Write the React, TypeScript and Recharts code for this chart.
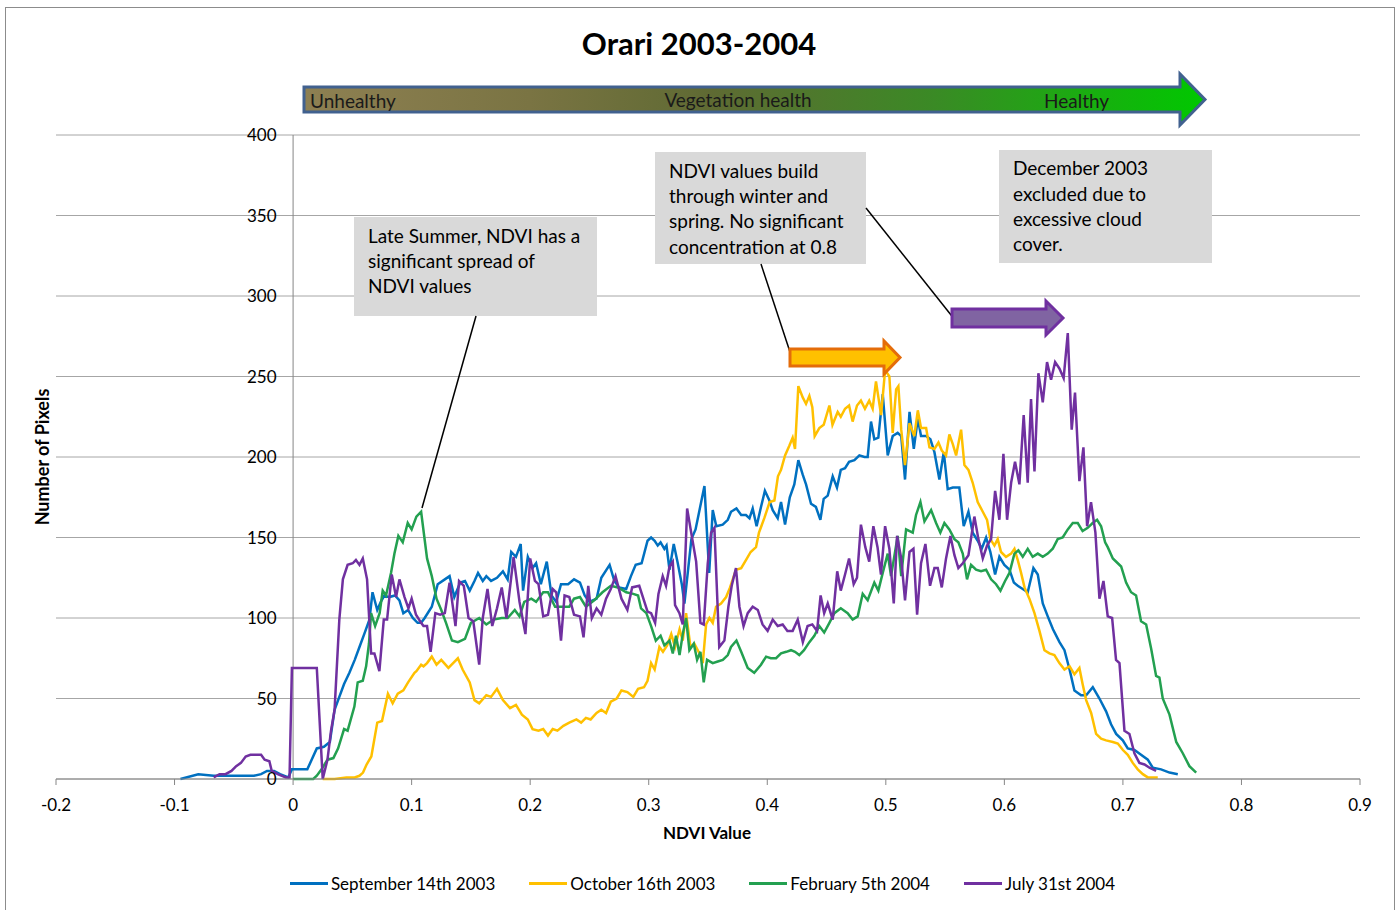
import React from "react";
import { LineChart, Line, XAxis, YAxis, CartesianGrid, ReferenceLine, ReferenceDot } from "recharts";

const FONT = "Lato, 'Noto Sans', sans-serif";

const SERIES_NAMES = ["September 14th 2003", "October 16th 2003", "February 5th 2004", "July 31st 2004"];
const COLORS = ["#0070C0", "#FFC000", "#23A050", "#7030A0"];
const X_TICKS = [-0.2, -0.1, 0, 0.1, 0.2, 0.3, 0.4, 0.5, 0.6, 0.7, 0.8, 0.9];
const Y_TICKS = [0, 50, 100, 150, 200, 250, 300, 350, 400];

// [NDVI, pixel count]
const sep14: [number, number][] = [
  [-0.095, 0], [-0.08, 3], [-0.067, 2], [-0.047, 2], [-0.033, 2], [-0.027, 3], [-0.022, 5], [-0.016, 5],
  [-0.011, 3], [-0.004, 1], [-0.001, 6], [0.012, 6], [0.02, 19], [0.026, 20], [0.031, 23], [0.035, 43],
  [0.039, 51], [0.043, 59], [0.0475, 66], [0.052, 74], [0.056, 82], [0.06, 90], [0.0644, 99], [0.067, 116],
  [0.071, 105], [0.074, 110], [0.077, 114], [0.081, 113], [0.086, 114], [0.0897, 111], [0.093, 103],
  [0.097, 105], [0.101, 100], [0.105, 97], [0.108, 97], [0.111, 100], [0.117, 107], [0.122, 121],
  [0.128, 124], [0.132, 126], [0.136, 113], [0.141, 122], [0.145, 123], [0.149, 117], [0.153, 123],
  [0.156, 128], [0.16, 123], [0.163, 126], [0.167, 123], [0.172, 125], [0.177, 129], [0.181, 124],
  [0.184, 141], [0.188, 138], [0.192, 146], [0.194, 117], [0.198, 138], [0.202, 131], [0.205, 134],
  [0.209, 121], [0.214, 135], [0.218, 114], [0.222, 110], [0.226, 121], [0.232, 121], [0.237, 124],
  [0.242, 122], [0.246, 114], [0.25, 110], [0.256, 112], [0.26, 125], [0.267, 133], [0.271, 123],
  [0.275, 119], [0.281, 118], [0.285, 126], [0.289, 133], [0.294, 134], [0.299, 148], [0.302, 150],
  [0.305, 148], [0.3076, 145], [0.31, 147], [0.3132, 143], [0.315, 145], [0.3175, 130], [0.3211, 146],
  [0.3245, 134], [0.3279, 121], [0.3301, 109], [0.336, 149], [0.3395, 155], [0.347, 182], [0.351, 128],
  [0.354, 167], [0.357, 157], [0.3624, 158], [0.3667, 161], [0.3694, 166], [0.374, 168], [0.378, 164],
  [0.382, 164], [0.385, 162], [0.3877, 168], [0.391, 157], [0.3947, 169], [0.398, 179], [0.4018, 173],
  [0.4046, 167], [0.4088, 162], [0.4116, 172], [0.415, 158], [0.419, 175], [0.4228, 183], [0.4262, 198],
  [0.4299, 189], [0.4327, 183], [0.4369, 171], [0.441, 169], [0.4448, 161], [0.4476, 174], [0.451, 176],
  [0.4552, 188], [0.4588, 181], [0.462, 192], [0.4656, 193], [0.469, 197], [0.4735, 198], [0.4777, 201],
  [0.482, 200], [0.4847, 200], [0.4875, 222], [0.4903, 211], [0.4937, 212], [0.4974, 239], [0.5016, 201],
  [0.5058, 213], [0.51, 215], [0.513, 213], [0.5162, 186], [0.52, 228], [0.5236, 205], [0.527, 224],
  [0.5297, 213], [0.534, 213], [0.5376, 211], [0.541, 203], [0.5452, 186], [0.5489, 203], [0.5522, 180],
  [0.5565, 181], [0.562, 181], [0.5657, 157], [0.5697, 166], [0.5733, 153], [0.5775, 148], [0.5809, 143],
  [0.5846, 150], [0.5882, 141], [0.5922, 127], [0.5958, 138], [0.6, 133], [0.6043, 130], [0.608, 122],
  [0.6113, 120], [0.6155, 118], [0.6197, 116], [0.6245, 131], [0.6282, 127], [0.6324, 109], [0.6366, 101],
  [0.641, 93], [0.6465, 85], [0.6507, 80], [0.655, 68], [0.6591, 55], [0.6647, 52], [0.669, 52],
  [0.6746, 57], [0.6802, 50], [0.6858, 42], [0.69, 34], [0.6943, 28], [0.6999, 24], [0.7041, 19],
  [0.7097, 18], [0.7153, 15], [0.721, 12], [0.7252, 7], [0.7322, 6], [0.7393, 4], [0.7463, 3],
];

const oct16: [number, number][] = [
  [0.025, 0], [0.035, 0], [0.045, 1], [0.052, 1], [0.056, 2], [0.059, 4], [0.062, 9], [0.066, 14],
  [0.071, 35], [0.075, 36], [0.08, 53], [0.084, 47], [0.0883, 53], [0.093, 55], [0.097, 60], [0.1024, 66],
  [0.104, 67], [0.108, 71], [0.11, 70], [0.113, 72], [0.117, 76], [0.121, 71], [0.125, 74], [0.131, 69],
  [0.135, 72], [0.139, 75], [0.143, 68], [0.149, 60], [0.153, 49], [0.157, 47], [0.163, 52], [0.167, 51],
  [0.172, 56], [0.177, 49], [0.183, 44], [0.188, 46], [0.193, 40], [0.198, 37], [0.202, 31], [0.207, 30],
  [0.211, 31], [0.215, 27], [0.219, 31], [0.223, 30], [0.228, 33], [0.233, 35], [0.239, 37], [0.243, 35],
  [0.247, 38], [0.251, 37], [0.256, 41], [0.26, 43], [0.264, 41], [0.268, 48], [0.273, 50], [0.277, 55],
  [0.282, 54], [0.287, 51], [0.291, 56], [0.296, 57], [0.299, 61], [0.302, 72], [0.305, 68], [0.309, 82],
  [0.312, 79], [0.3155, 83], [0.319, 90], [0.3222, 82], [0.326, 93], [0.3287, 86], [0.3315, 103],
  [0.3352, 82], [0.3385, 84], [0.3428, 78], [0.3456, 72], [0.3484, 96], [0.3512, 100], [0.354, 97],
  [0.3568, 107], [0.361, 109], [0.3653, 113], [0.3686, 119], [0.3736, 130], [0.378, 131], [0.382, 136],
  [0.386, 141], [0.3905, 144], [0.393, 153], [0.3975, 162], [0.402, 172], [0.406, 173], [0.409, 188],
  [0.4116, 192], [0.415, 201], [0.4186, 207], [0.4214, 212], [0.4234, 205], [0.4262, 244], [0.4299, 237],
  [0.4327, 233], [0.4355, 238], [0.438, 231], [0.44, 213], [0.4439, 218], [0.4476, 220], [0.4524, 232],
  [0.455, 220], [0.4594, 228], [0.462, 225], [0.4656, 230], [0.469, 232], [0.472, 222], [0.4757, 232],
  [0.479, 235], [0.4824, 230], [0.486, 235], [0.4889, 230], [0.4917, 247], [0.496, 226], [0.4994, 254],
  [0.503, 250], [0.5058, 215], [0.5087, 242], [0.5106, 244], [0.513, 217], [0.5162, 195], [0.52, 221],
  [0.524, 213], [0.527, 229], [0.5297, 218], [0.534, 218], [0.5368, 206], [0.541, 205], [0.5444, 209],
  [0.5472, 204], [0.5508, 201], [0.5536, 214], [0.5565, 208], [0.5593, 201], [0.5635, 217], [0.5663, 195],
  [0.5697, 192], [0.5733, 184], [0.5775, 172], [0.5818, 166], [0.5854, 161], [0.5882, 149], [0.5916, 145],
  [0.5944, 149], [0.5972, 141], [0.6014, 138], [0.6057, 140], [0.6085, 143], [0.6113, 136], [0.6141, 128],
  [0.617, 119], [0.6211, 112], [0.6254, 103], [0.6296, 92], [0.6338, 80], [0.638, 78], [0.6422, 77],
  [0.6464, 72], [0.6507, 68], [0.655, 70], [0.6591, 65], [0.6633, 69], [0.666, 59], [0.669, 49],
  [0.6732, 41], [0.6774, 28], [0.6816, 25], [0.6858, 24], [0.6915, 23], [0.6957, 22], [0.7, 18],
  [0.7041, 15], [0.7083, 10], [0.7125, 6], [0.7168, 3], [0.721, 1], [0.7294, 1],
];

const feb5: [number, number][] = [
  [0, 0], [0.017, 0], [0.02, 2], [0.024, 6], [0.029, 12], [0.034, 13], [0.038, 19], [0.043, 31],
  [0.046, 30], [0.0517, 45], [0.0545, 60], [0.0588, 61], [0.0616, 70], [0.064, 84], [0.0658, 103],
  [0.0692, 95], [0.073, 103], [0.0756, 117], [0.0784, 114], [0.0826, 128], [0.0855, 140], [0.0888, 151],
  [0.0925, 147], [0.0967, 159], [0.1, 155], [0.104, 163], [0.108, 166], [0.113, 137], [0.117, 126],
  [0.121, 112], [0.125, 105], [0.129, 97], [0.134, 86], [0.139, 85], [0.145, 87], [0.15, 97], [0.157, 100],
  [0.163, 96], [0.169, 99], [0.176, 100], [0.181, 100], [0.187, 105], [0.191, 101], [0.195, 110],
  [0.201, 112], [0.205, 110], [0.211, 116], [0.215, 116], [0.221, 107], [0.228, 107], [0.233, 107],
  [0.237, 112], [0.242, 113], [0.247, 107], [0.254, 111], [0.261, 116], [0.268, 120], [0.274, 119],
  [0.281, 116], [0.287, 115], [0.291, 114], [0.2935, 106], [0.298, 103], [0.302, 95], [0.306, 86],
  [0.31, 89], [0.3132, 83], [0.3175, 86], [0.3203, 78], [0.323, 89], [0.326, 77], [0.3287, 90],
  [0.3315, 100], [0.3343, 80], [0.338, 84], [0.3408, 74], [0.3436, 79], [0.3464, 60], [0.3492, 74],
  [0.354, 72], [0.3582, 73], [0.3625, 74], [0.3667, 77], [0.3694, 82], [0.374, 86], [0.378, 79],
  [0.3835, 69], [0.389, 66], [0.3947, 71], [0.399, 76], [0.403, 75], [0.4074, 75], [0.4116, 78],
  [0.416, 79], [0.42, 80], [0.4234, 79], [0.427, 77], [0.431, 80], [0.4355, 85], [0.4397, 89],
  [0.4439, 95], [0.448, 91], [0.4524, 97], [0.4566, 103], [0.462, 106], [0.4678, 103], [0.472, 99],
  [0.4763, 101], [0.4805, 115], [0.4847, 111], [0.4903, 122], [0.4937, 117], [0.4974, 128], [0.5016, 140],
  [0.5044, 126], [0.51, 151], [0.513, 126], [0.5171, 155], [0.5227, 153], [0.5255, 164], [0.5292, 172],
  [0.5326, 160], [0.5382, 167], [0.5424, 159], [0.546, 153], [0.5494, 159], [0.5536, 155], [0.5579, 149],
  [0.5612, 147], [0.5649, 140], [0.5685, 124], [0.5719, 133], [0.5761, 130], [0.5803, 129], [0.5846, 130],
  [0.5888, 124], [0.593, 121], [0.5967, 117], [0.6006, 123], [0.6043, 128], [0.6085, 140], [0.6118, 142],
  [0.6155, 138], [0.6197, 143], [0.6239, 138], [0.6282, 140], [0.6324, 138], [0.6366, 140], [0.6408, 143],
  [0.645, 149], [0.6492, 150], [0.6535, 155], [0.6577, 159], [0.6619, 159], [0.666, 154], [0.6703, 156],
  [0.6745, 159], [0.6782, 161], [0.6816, 157], [0.685, 147], [0.6872, 144], [0.6915, 137], [0.6985, 132],
  [0.7027, 122], [0.7069, 116], [0.7111, 114], [0.7153, 98], [0.7196, 96], [0.7238, 81], [0.728, 64],
  [0.7308, 63], [0.7336, 50], [0.7393, 40], [0.745, 23], [0.7505, 16], [0.7561, 8], [0.7618, 4],
];

const jul31: [number, number][] = [
  [-0.067, 1], [-0.062, 3], [-0.057, 3], [-0.052, 5], [-0.048, 8], [-0.044, 10], [-0.04, 14], [-0.036, 15],
  [-0.03, 15], [-0.027, 15], [-0.024, 12], [-0.02, 11], [-0.018, 5], [-0.013, 3], [-0.006, 1], [-0.003, 1],
  [-0.001, 69], [0.02, 69], [0.025, 0], [0.029, 12], [0.032, 30], [0.035, 43], [0.039, 99], [0.042, 124],
  [0.046, 133], [0.0503, 134], [0.053, 136], [0.056, 133], [0.0588, 137], [0.0624, 124], [0.0658, 78],
  [0.0686, 78], [0.0728, 67], [0.0765, 99], [0.0793, 99], [0.0832, 127], [0.0869, 113], [0.0897, 124],
  [0.094, 113], [0.0973, 106], [0.1, 112], [0.1037, 102], [0.108, 97], [0.11, 95], [0.113, 95],
  [0.116, 79], [0.12, 103], [0.124, 102], [0.128, 103], [0.132, 122], [0.137, 95], [0.14, 123],
  [0.144, 120], [0.148, 100], [0.152, 98], [0.157, 71], [0.16, 100], [0.164, 118], [0.168, 95],
  [0.172, 106], [0.176, 119], [0.18, 100], [0.186, 138], [0.191, 110], [0.196, 90], [0.2, 137],
  [0.204, 123], [0.207, 121], [0.211, 101], [0.215, 102], [0.219, 118], [0.222, 116], [0.226, 86],
  [0.229, 114], [0.233, 113], [0.237, 102], [0.242, 101], [0.245, 88], [0.249, 120], [0.252, 100],
  [0.256, 106], [0.26, 102], [0.264, 112], [0.268, 118], [0.272, 126], [0.277, 112], [0.282, 105],
  [0.286, 119], [0.292, 120], [0.299, 104], [0.302, 103], [0.3054, 97], [0.3082, 115], [0.3118, 126],
  [0.3146, 120], [0.3175, 132], [0.3203, 135], [0.3222, 108], [0.3259, 103], [0.3287, 96], [0.3324, 168],
  [0.3363, 151], [0.34, 135], [0.3436, 97], [0.3464, 96], [0.3498, 134], [0.3526, 153], [0.3554, 156],
  [0.3595, 82], [0.3638, 86], [0.3672, 107], [0.37, 120], [0.3736, 131], [0.3765, 107], [0.38, 95],
  [0.3835, 103], [0.3877, 107], [0.392, 105], [0.396, 96], [0.4003, 92], [0.4046, 99], [0.4088, 95],
  [0.413, 96], [0.417, 92], [0.4214, 92], [0.4257, 99], [0.43, 85], [0.434, 95], [0.438, 96], [0.442, 92],
  [0.445, 114], [0.448, 103], [0.451, 109], [0.4552, 99], [0.459, 129], [0.462, 117], [0.4656, 127],
  [0.469, 137], [0.4729, 121], [0.4757, 125], [0.479, 158], [0.4827, 144], [0.486, 135], [0.4895, 157],
  [0.493, 144], [0.4959, 127], [0.4994, 157], [0.503, 143], [0.5067, 109], [0.5095, 151], [0.513, 137],
  [0.5162, 111], [0.52, 141], [0.5233, 143], [0.5264, 102], [0.5297, 134], [0.5334, 146], [0.5373, 120],
  [0.541, 131], [0.5438, 131], [0.5472, 119], [0.5508, 137], [0.5545, 151], [0.5579, 139], [0.5612, 131],
  [0.5649, 134], [0.5697, 139], [0.5747, 163], [0.5781, 149], [0.5818, 137], [0.5854, 145], [0.5888, 149],
  [0.5922, 179], [0.5958, 161], [0.5992, 202], [0.6023, 161], [0.6057, 184], [0.609, 197], [0.6127, 183],
  [0.6163, 226], [0.6197, 184], [0.6225, 236], [0.6254, 191], [0.6287, 252], [0.6324, 234], [0.636, 259],
  [0.6394, 248], [0.6428, 259], [0.6464, 255], [0.65, 249], [0.6535, 277], [0.6568, 217], [0.6596, 240],
  [0.6633, 185], [0.6667, 206], [0.6698, 157], [0.6731, 172], [0.6768, 153], [0.6802, 112], [0.6836, 123],
  [0.6872, 101], [0.6909, 100], [0.6942, 74], [0.6971, 72], [0.7013, 30], [0.7055, 28], [0.7097, 16],
  [0.7139, 10], [0.7182, 9], [0.7224, 7], [0.728, 5],
];

const SERIES = [sep14, oct16, feb5, jul31];

const toRows = (pts: [number, number][]) => pts.map(([x, y]) => ({ x, y }));

function Overlay() {
  return (
    <svg width={1398} height={910} style={{ position: "absolute", left: 0, top: 0, pointerEvents: "none" }}>
      <defs>
        <linearGradient id="health" x1="0" x2="1" y1="0" y2="0">
          <stop offset="0%" stopColor="#8E8052" />
          <stop offset="25%" stopColor="#7A7443" />
          <stop offset="45%" stopColor="#5F6A33" />
          <stop offset="70%" stopColor="#3A8A25" />
          <stop offset="100%" stopColor="#00C800" />
        </linearGradient>
      </defs>
      {/* vegetation health banner */}
      <path d="M304,87 L1180,87 L1180,74 L1205,99.5 L1180,125 L1180,112 L304,112 Z"
        fill="url(#health)" stroke="#41618F" strokeWidth={3} strokeLinejoin="miter" />
      <g fontFamily={FONT} fontSize={19} fill="#1a1a1a" dominantBaseline="central">
        <text x={310} y={100}>Unhealthy</text>
        <text x={738} y={99} textAnchor="middle">Vegetation health</text>
        <text x={1044} y={100}>Healthy</text>
      </g>

      {/* callouts */}
      <g fill="#D9D9D9">
        <rect x={354} y={217} width={243} height={99} />
        <rect x={655} y={152} width={211} height={112} />
        <rect x={999} y={150} width={213} height={113} />
      </g>
      <g fontFamily={FONT} fontSize={19} fill="#000">
        <text x={368} y={243}>Late Summer, NDVI has a</text>
        <text x={368} y={268}>significant spread of</text>
        <text x={368} y={293}>NDVI values</text>
        <text x={669} y={178}>NDVI values build</text>
        <text x={669} y={203}>through winter and</text>
        <text x={669} y={228}>spring. No significant</text>
        <text x={669} y={254}>concentration at 0.8</text>
        <text x={1013} y={175}>December 2003</text>
        <text x={1013} y={201}>excluded due to</text>
        <text x={1013} y={226}>excessive cloud</text>
        <text x={1013} y={251}>cover.</text>
      </g>
      <g stroke="#000" strokeWidth={1.5}>
        <line x1={476} y1={316} x2={422} y2={508} />
        <line x1={761} y1={264} x2={792} y2={358} />
        <line x1={866} y1={208} x2={955} y2={320} />
      </g>

      {/* block arrows */}
      <path d="M790,349 L884,349 L884,341 L900,357.5 L884,374 L884,366 L790,366 Z"
        fill="#FFC000" stroke="#E46C0A" strokeWidth={3} />
      <path d="M952,309 L1046,309 L1046,301 L1063,318 L1046,335 L1046,327 L952,327 Z"
        fill="#8064A2" stroke="#7030A0" strokeWidth={3} />
    </svg>
  );
}

export default function App() {
  return (
    <div style={{ position: "absolute", left: 0, top: 0, width: 1398, height: 910, background: "#fff", fontFamily: FONT, overflow: "hidden" }}>
      <div style={{ position: "absolute", left: 5, top: 7, width: 1388, height: 920, border: "1px solid #8c8c8c" }} />
      <div style={{ position: "absolute", left: 0, width: 1398, top: 24, textAlign: "center", fontSize: 31, fontWeight: 700, color: "#000" }}>
        Orari 2003-2004
      </div>

      <div style={{ position: "absolute", left: 0, top: 0 }}>
        <LineChart width={1398} height={910} margin={{ top: 135, right: 38, bottom: 101, left: 56 }}>
          <CartesianGrid vertical={false} stroke="#A6A6A6" strokeWidth={1} />
          <XAxis
            dataKey="x" type="number" domain={[-0.2, 0.9]} ticks={X_TICKS} allowDataOverflow
            height={30} stroke="#868686" tickSize={6} tickMargin={14}
            tick={{ fill: "#000", fontSize: 17, fontFamily: FONT }}
            tickFormatter={(v: number) => (v === 0 ? "0" : String(v))}
          />
          <YAxis hide type="number" domain={[0, 400]} ticks={Y_TICKS} />
          <ReferenceLine x={0} stroke="#868686" strokeWidth={1} />
          {Y_TICKS.map((v) => (
            <ReferenceDot key={v} x={0} y={v} r={0.5} fill="none" stroke="none"
              label={{ value: String(v), position: "left", offset: 16, fill: "#000", fontSize: 17, fontFamily: FONT }} />
          ))}
          {SERIES.map((s, i) => (
            <Line key={SERIES_NAMES[i]} data={toRows(s)} dataKey="y" name={SERIES_NAMES[i]} type="linear"
              stroke={COLORS[i]} strokeWidth={2.5} dot={false} activeDot={false} isAnimationActive={false} />
          ))}
        </LineChart>
      </div>

      <Overlay />

      <div style={{ position: "absolute", left: 0, width: 1398, top: 822, textAlign: "center", fontSize: 17, fontWeight: 700 }}>
        <span style={{ position: "relative", left: 8 }}>NDVI Value</span>
      </div>
      <div style={{ position: "absolute", left: 42, top: 457, transform: "translate(-50%, -50%) rotate(-90deg)", whiteSpace: "nowrap", fontSize: 18, fontWeight: 700 }}>
        Number of Pixels
      </div>

      <div style={{ position: "absolute", left: 0, width: 1405, top: 873, display: "flex", justifyContent: "center", gap: 34, fontSize: 17 }}>
        {SERIES_NAMES.map((n, i) => (
          <div key={n} style={{ display: "flex", alignItems: "center" }}>
            <div style={{ width: 38, height: 3, background: COLORS[i], marginRight: 3 }} />
            <span>{n}</span>
          </div>
        ))}
      </div>
    </div>
  );
}
